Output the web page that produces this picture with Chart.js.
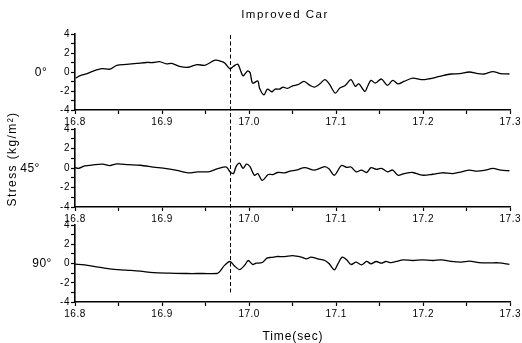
<!DOCTYPE html>
<html><head><meta charset="utf-8">
<script src="https://cdn.jsdelivr.net/npm/chart.js@4.4.1/dist/chart.umd.min.js"></script>
<style>
html,body{margin:0;padding:0;background:#fff;}
#wrap{position:relative;width:522px;height:343px;overflow:hidden;font-family:"Liberation Sans",Arial,sans-serif;color:#000;background:#fff;}
canvas{position:absolute;left:0;top:0;}
.t{position:absolute;white-space:nowrap;transform:translate(-50%,-50%);line-height:1;}
</style></head><body>
<div id="wrap">
<canvas id="c1" width="522" height="343"></canvas>
<canvas id="c2" width="522" height="343"></canvas>
<canvas id="c3" width="522" height="343"></canvas>
<div class="t" id="title" style="left:285px;top:15px;font-size:11.5px;letter-spacing:1.5px">Improved Car</div>
<div class="t" id="ytitle" style="left:12px;top:159px;font-size:12px;letter-spacing:1.4px;transform:translate(-50%,-50%) rotate(-90deg)">Stress (kg/m²)</div>
<div class="t" id="xtitle" style="left:293px;top:336px;font-size:12px;letter-spacing:0.9px">Time(sec)</div>
<div class="t" id="p0" style="left:41px;top:72px;font-size:12px;letter-spacing:0.4px"></div>
<div class="t" id="p1" style="left:30px;top:168px;font-size:12px;letter-spacing:0.4px"></div>
<div class="t" id="p2" style="left:42px;top:263px;font-size:12px;letter-spacing:0.4px"></div>
</div>
<script>
// ---- data ----
const panelNames = ['0°', '45°', '90°'];
const xTickLabels = ['16.8', '16.9', '17.0', '17.1', '17.2', '17.3'];
const yTickLabels = ['-4', '-2', '0', '2', '4'];
const cutTime = 16.978;

const time0 = [16.801,16.806,16.813,16.821,16.831,16.840,16.848,16.859,16.871,16.882,16.890,16.897,16.905,16.911,16.920,16.930,16.940,16.949,16.961,16.968,16.972,16.978,16.982,16.987,16.993,16.998,17.001,17.004,17.010,17.012,17.017,17.021,17.026,17.030,17.035,17.039,17.044,17.050,17.056,17.063,17.070,17.075,17.081,17.087,17.092,17.099,17.104,17.110,17.117,17.122,17.126,17.133,17.136,17.140,17.145,17.152,17.159,17.165,17.171,17.178,17.188,17.198,17.207,17.219,17.232,17.242,17.253,17.263,17.270,17.280,17.289,17.299];
const stress0 = [-0.64,-0.39,-0.20,0.10,0.35,0.30,0.70,0.80,0.90,1.00,1.00,1.10,0.85,0.90,0.60,0.50,0.78,0.70,1.24,1.13,0.95,0.32,0.60,0.81,-0.39,0.10,-0.04,-1.17,-0.95,-1.70,-2.40,-1.80,-2.08,-1.80,-1.80,-1.59,-1.73,-1.45,-1.34,-0.99,-1.41,-1.59,-1.27,-0.81,-1.24,-2.23,-1.70,-1.45,-0.81,-1.52,-1.24,-2.05,-1.52,-0.88,-1.17,-0.74,-1.41,-0.88,-1.24,-0.99,-0.64,-0.81,-0.71,-0.46,-0.21,-0.18,0.00,-0.18,-0.21,0.04,-0.18,-0.21];

const time45 = [16.800,16.804,16.811,16.821,16.832,16.840,16.848,16.861,16.875,16.890,16.905,16.917,16.930,16.941,16.953,16.964,16.974,16.978,16.982,16.985,16.989,16.993,16.997,17.001,17.006,17.010,17.015,17.022,17.027,17.033,17.041,17.047,17.054,17.064,17.075,17.087,17.092,17.098,17.106,17.112,17.117,17.123,17.129,17.135,17.140,17.146,17.152,17.159,17.165,17.171,17.178,17.188,17.199,17.211,17.222,17.234,17.244,17.253,17.261,17.270,17.280,17.289,17.299];
const stress45 = [0.04,-0.04,0.21,0.32,0.39,0.25,0.42,0.35,0.28,0.10,-0.07,-0.25,-0.49,-0.39,-0.39,-0.07,0.10,-0.39,-0.57,0.14,0.49,-0.04,0.39,0.14,-0.74,-0.57,-1.27,-0.67,-0.67,-0.46,-0.49,-0.32,-0.21,0.04,-0.21,0.14,-0.11,-0.74,0.25,0.07,0.10,-0.39,-0.21,-0.46,0.04,-0.14,-0.04,-0.39,-0.21,-0.74,-0.57,-0.46,-0.74,-0.64,-0.49,-0.57,-0.39,-0.21,-0.32,-0.25,-0.04,-0.21,-0.28];

const time90 = [16.800,16.811,16.825,16.840,16.859,16.875,16.890,16.909,16.928,16.947,16.963,16.966,16.972,16.978,16.983,16.989,16.995,16.999,17.004,17.008,17.015,17.021,17.026,17.031,17.041,17.050,17.060,17.066,17.071,17.079,17.087,17.092,17.098,17.102,17.107,17.112,17.117,17.123,17.129,17.135,17.140,17.146,17.152,17.157,17.163,17.169,17.177,17.188,17.199,17.211,17.221,17.232,17.244,17.253,17.264,17.276,17.287,17.299];
const stress90 = [-0.07,-0.14,-0.35,-0.56,-0.69,-0.80,-0.94,-1.00,-1.04,-1.04,-1.04,-0.87,-0.17,0.21,-0.24,-0.63,-0.17,0.31,-0.10,0.03,0.10,0.59,0.63,0.72,0.72,0.82,0.66,0.48,0.66,0.48,0.31,-0.03,-0.66,-0.03,0.66,0.38,-0.10,0.14,-0.14,0.21,-0.03,0.21,0.03,0.21,0.10,0.21,0.38,0.31,0.38,0.31,0.38,0.21,0.14,0.24,0.10,0.07,0.07,-0.10];

// ---- drawing ----
document.getElementById('p0').textContent = panelNames[0];
document.getElementById('p1').textContent = panelNames[1];
document.getElementById('p2').textContent = panelNames[2];

const FONT = '"Liberation Sans", Arial, sans-serif';
const xVals = xTickLabels.map(Number);
const yVals = yTickLabels.map(Number);

const spacingPlugin = {
  id: 'spacing',
  beforeDraw(chart) { chart.ctx.letterSpacing = '0.5px'; }
};

const charts = [];

function makePanel(id, times, vals, padTop, padBottom, extraPlugins) {
  const pts = times.map((t, i) => ({ x: t, y: vals[i] }));
  const ch = new Chart(document.getElementById(id), {
    type: 'line',
    data: { datasets: [{ data: pts, borderColor: '#000', borderWidth: 1.3, pointRadius: 0, tension: 0.3, fill: false }] },
    options: {
      responsive: false, animation: false, devicePixelRatio: 1,
      layout: { padding: { top: padTop, bottom: padBottom, left: 0, right: 11 } },
      plugins: { legend: { display: false }, tooltip: { enabled: false }, title: { display: false } },
      scales: {
        x: {
          type: 'linear', min: xVals[0], max: xVals[xVals.length - 1],
          afterFit(s) { s.height = 20; },
          border: { display: true, color: '#000', width: 1.6 },
          grid: { drawOnChartArea: false, drawTicks: true, tickLength: 4, tickColor: '#000', tickWidth: 1.2 },
          ticks: {
            stepSize: 0.05, autoSkip: false, maxRotation: 0, minRotation: 0, padding: 2, color: '#000',
            font: { family: FONT, size: 10 },
            callback(v) {
              const i = xVals.findIndex(x => Math.abs(x - v) < 1e-6);
              return i >= 0 ? xTickLabels[i] : '';
            }
          }
        },
        y: {
          min: yVals[0], max: yVals[yVals.length - 1],
          afterFit(s) { s.width = 75; },
          border: { display: true, color: '#000', width: 1.6 },
          grid: { drawOnChartArea: false, drawTicks: true, tickLength: 4, tickColor: '#000', tickWidth: 1.2 },
          ticks: {
            stepSize: 1, autoSkip: false, padding: 1, color: '#000',
            font: { family: FONT, size: 10 },
            callback(v) {
              const i = yVals.findIndex(y => Math.abs(y - v) < 1e-6);
              return i >= 0 ? yTickLabels[i] : '';
            }
          }
        }
      }
    },
    plugins: [spacingPlugin].concat(extraPlugins || [])
  });
  charts.push(ch);
  return ch;
}

const cutLine = {
  id: 'cutLine',
  afterDraw(chart) {
    const top = charts[0].scales.y.getPixelForValue(4) + 1;
    const bottom = chart.scales.y.getPixelForValue(-3);
    const x = chart.scales.x.getPixelForValue(cutTime);
    const ctx = chart.ctx;
    ctx.save();
    ctx.strokeStyle = '#000';
    ctx.lineWidth = 1;
    ctx.setLineDash([4, 2.5]);
    ctx.beginPath();
    ctx.moveTo(Math.round(x) + 0.5, top);
    ctx.lineTo(Math.round(x) + 0.5, bottom);
    ctx.stroke();
    ctx.restore();
  }
};

makePanel('c1', time0, stress0, 34, 213);
makePanel('c2', time45, stress45, 129, 116);
makePanel('c3', time90, stress90, 225, 21, [cutLine]);
</script>
</body></html>
